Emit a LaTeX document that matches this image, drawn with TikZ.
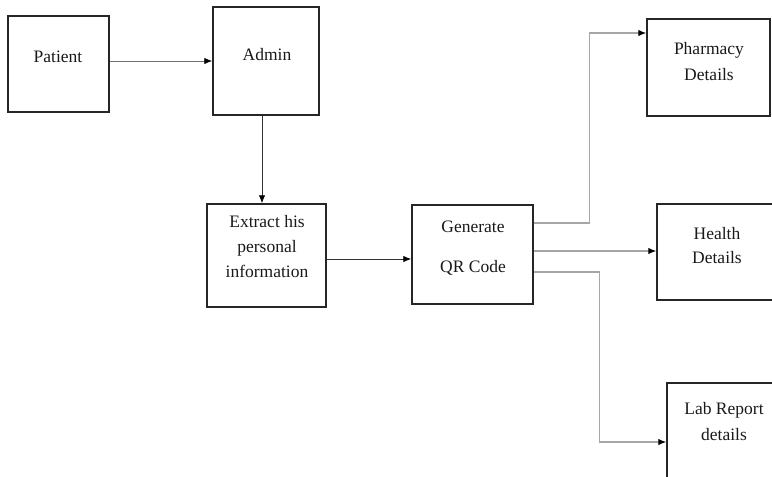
\documentclass[tikz,border=0pt]{standalone}
\usepackage{fontspec}
\setmainfont{Liberation Serif}
\usetikzlibrary{arrows.meta}
\begin{document}
\begin{tikzpicture}[x=1pt,y=-1pt,
  box/.style={draw=black!85,line width=1.5pt,rectangle,inner sep=0pt},
  lbl/.style={font=\fontsize{17.5}{20}\selectfont,anchor=base,inner sep=0pt,text=black!90},
  conn/.style={line width=0.9pt,draw=black!80,-{Latex[length=8pt,width=6.5pt,color=black]}},
  gconn/.style={line width=1.1pt,draw=black!35,-{Latex[length=8pt,width=6.5pt,color=black]}}]
\path[use as bounding box] (0,0) rectangle (772,477);
\clip (0,0) rectangle (772,477);
% boxes
\node[box,minimum width=101pt,minimum height=96pt] (Patient) at (58.5,64) {};
\node[box,minimum width=106pt,minimum height=108pt] (Admin) at (266,61) {};
\node[box,minimum width=119pt,minimum height=103pt] (Extract) at (266.5,255.5) {};
\node[box,minimum width=121pt,minimum height=99pt] (Generate) at (472.5,254.5) {};
\node[box,minimum width=123pt,minimum height=97pt] (Pharmacy) at (708.5,67.5) {};
\node[box,minimum width=150pt,minimum height=96pt] (Health) at (732,252) {};
\node[box,minimum width=150pt,minimum height=137pt] (Lab) at (742,451.5) {};
% texts
\node[lbl] (tPatient) at (58,62) {Patient};
\node[lbl] (tAdmin) at (267,60) {Admin};
\node[lbl] (tExtract1) at (267,227) {Extract his};
\node[lbl] (tExtract2) at (267,252) {personal};
\node[lbl] (tExtract3) at (267,277) {information};
\node[lbl] (tGen1) at (473,232) {Generate};
\node[lbl] (tGen2) at (473,272) {QR Code};
\node[lbl] (tPh1) at (709,54) {Pharmacy};
\node[lbl] (tPh2) at (709,80) {Details};
\node[lbl] (tHe1) at (717,239) {Health};
\node[lbl] (tHe2) at (717,263) {Details};
\node[lbl] (tLab1) at (724,414) {Lab Report};
\node[lbl] (tLab2) at (724,440) {details};
% connectors
\draw[conn,draw=black!55] (Patient.east |- Admin.west) -- (Admin.west);
\draw[conn] ([xshift=-4pt]Admin.south) -- ([xshift=-4pt]Admin.south |- Extract.north);
\draw[conn] ([yshift=-3.5pt]Extract.east) -- ([yshift=-3.5pt]Extract.east -| Generate.west);
\draw[gconn] ([yshift=31.5pt]Generate.east) -- ++(56,0) |- ([yshift=34.5pt]Pharmacy.west);
\draw[gconn] ([yshift=3.5pt]Generate.east) -- ([yshift=3.5pt]Generate.east -| Health.west);
\draw[gconn] ([yshift=-17.5pt]Generate.east) -- ++(66,0) |- ([yshift=9.5pt]Lab.west);
\end{tikzpicture}
\end{document}
